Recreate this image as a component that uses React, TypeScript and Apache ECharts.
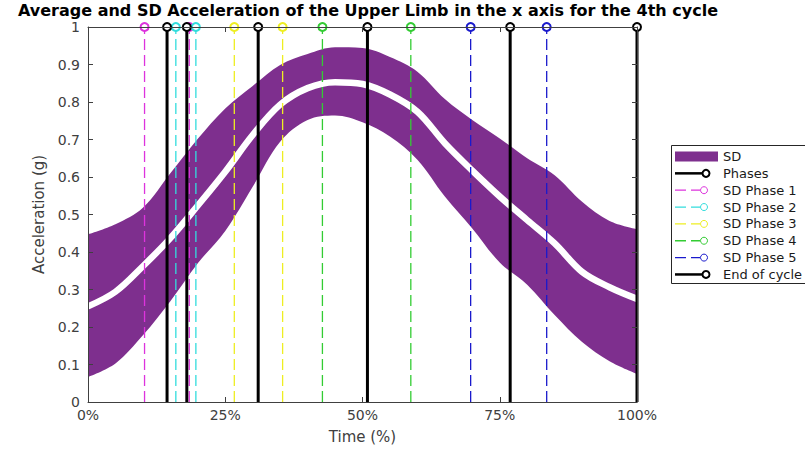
import React, { useEffect, useRef } from "react";
import * as echarts from "echarts";

// Time axis (% of cycle)
const timePct = [0, 5, 10, 15, 20, 25, 30, 35, 40, 45, 50, 55, 60, 65, 70, 75, 80, 85, 90, 95, 100];
// Mean + SD (upper edge of the band)
const sdUpper = [0.447, 0.474, 0.518, 0.61, 0.702, 0.783, 0.843, 0.899, 0.928, 0.946, 0.944, 0.92, 0.881, 0.808, 0.752, 0.703, 0.65, 0.605, 0.534, 0.483, 0.461];
// Mean - SD (lower edge of the band)
const sdLower = [0.067, 0.103, 0.178, 0.269, 0.37, 0.456, 0.574, 0.694, 0.752, 0.764, 0.746, 0.708, 0.646, 0.548, 0.463, 0.372, 0.313, 0.232, 0.16, 0.109, 0.075];
// Average acceleration
const meanAcc = [0.255, 0.294, 0.362, 0.437, 0.524, 0.614, 0.712, 0.793, 0.837, 0.853, 0.848, 0.82, 0.774, 0.69, 0.617, 0.548, 0.485, 0.423, 0.347, 0.306, 0.275];

// Vertical markers (time %)
const phaseTimes = [14.4, 18.0, 31.0, 50.9, 76.9];
const endOfCycle = [100];
const sdPhase1 = [10.3, 18.45];
const sdPhase2 = [16.0, 19.65];
const sdPhase3 = [26.65, 35.45];
const sdPhase4 = [42.7, 58.8];
const sdPhase5 = [69.7, 83.55];

const xTicks = [0, 25, 50, 75, 100];
const yTickStep = 0.1;

const legendLabels = ["SD", "Phases", "SD Phase 1", "SD Phase 2", "SD Phase 3", "SD Phase 4", "SD Phase 5", "End of cycle"];

const PURPLE = "#7E2F8E";
const C_MAG = "#dd33dd";
const C_CYAN = "#33dddd";
const C_YEL = "#eeee22";
const C_GRN = "#33cc33";
const C_BLUE = "#1a1acc";
const AXIS = "#404040";
const FONT = "DejaVu Sans";

function vline(x: number, color: string, width: number, dashed: boolean, z: number) {
  return {
    type: "line",
    xAxisIndex: 0,
    yAxisIndex: 0,
    data: [
      { value: [x, 0], symbol: "none" },
      { value: [x, 1], symbol: "emptyCircle" },
    ],
    symbolSize: 8,
    clip: false,
    silent: true,
    z,
    lineStyle: { color, width, type: dashed ? [11, 5] : "solid" },
    itemStyle: { color, borderColor: color, borderWidth: dashed ? 1 : 2 },
  };
}

export default function App() {
  const ref = useRef<HTMLDivElement>(null);

  useEffect(() => {
    if (!ref.current) return;
    const chart = echarts.init(ref.current, undefined, { renderer: "svg" });

    const upperData = timePct.map((t, i) => [t, sdUpper[i]]);
    const lowerData = timePct.map((t, i) => [t, sdLower[i]]);
    const meanData = timePct.map((t, i) => [t, meanAcc[i]]);

    const series: any[] = [
      {
        type: "line",
        data: upperData,
        symbol: "none",
        smooth: 0.35,
        lineStyle: { width: 0, opacity: 0 },
        areaStyle: { color: PURPLE, opacity: 1, origin: "start" },
        silent: true,
        z: 2,
      },
      {
        type: "line",
        data: lowerData,
        symbol: "none",
        smooth: 0.35,
        lineStyle: { width: 0, opacity: 0 },
        areaStyle: { color: "#ffffff", opacity: 1, origin: "start" },
        silent: true,
        z: 2,
      },
      {
        type: "line",
        data: meanData,
        symbol: "none",
        smooth: 0.35,
        lineStyle: { color: "#ffffff", width: 6.5 },
        silent: true,
        z: 3,
      },
    ];

    const sdGroups: [number[], string][] = [
      [sdPhase1, C_MAG],
      [sdPhase2, C_CYAN],
      [sdPhase3, C_YEL],
      [sdPhase4, C_GRN],
      [sdPhase5, C_BLUE],
    ];
    sdGroups.forEach(([arr, c]) => arr.forEach((x) => series.push(vline(x, c, 1.3, true, 4))));
    phaseTimes.forEach((x) => series.push(vline(x, "#000000", 3, false, 5)));
    endOfCycle.forEach((x) => series.push(vline(x, "#000000", 3, false, 5)));

    // Legend drawn with graphic elements (MATLAB style)
    const lgX = 671.5;
    const lgY = 145.5;
    const rowH = 16.85;
    const row0 = 156.5;
    const lgColors = ["", "#000000", C_MAG, C_CYAN, C_YEL, C_GRN, C_BLUE, "#000000"];
    const legendChildren: any[] = [
      {
        type: "rect",
        shape: { x: lgX, y: lgY, width: 140, height: 138 },
        style: { fill: "#ffffff", stroke: "#262626", lineWidth: 1 },
        z: 10,
      },
    ];
    legendLabels.forEach((label, i) => {
      const cy = row0 + rowH * i;
      if (i === 0) {
        legendChildren.push({
          type: "rect",
          shape: { x: 675, y: cy - 5, width: 43, height: 10 },
          style: { fill: PURPLE },
          z: 11,
        });
      } else {
        const c = lgColors[i];
        const solid = c === "#000000";
        legendChildren.push({
          type: "line",
          shape: { x1: 675, y1: cy, x2: solid ? 704 : 700, y2: cy },
          style: { stroke: c, lineWidth: solid ? 2.5 : 1.3, lineDash: solid ? null : [11, 5] },
          z: 11,
        });
        legendChildren.push({
          type: "circle",
          shape: { cx: solid ? 706 : 704, cy, r: 3.5 },
          style: { fill: "#ffffff", stroke: c, lineWidth: solid ? 2 : 1 },
          z: 12,
        });
      }
      legendChildren.push({
        type: "text",
        x: 723,
        y: cy,
        style: {
          text: label,
          fill: "#1a1a1a",
          font: `13px "${FONT}"`,
          verticalAlign: "middle",
          align: "left",
        },
        z: 12,
      });
    });

    const axisCommon = {
      axisTick: { show: true, inside: true, length: 5, lineStyle: { color: AXIS } },
      splitLine: { show: false },
      z: 8,
    };

    chart.setOption({
      animation: false,
      backgroundColor: "#ffffff",
      title: {
        text: "Average and SD Acceleration of the Upper Limb in the x axis for the 4th cycle",
        left: 363,
        textAlign: "center",
        top: 0,
        padding: [2, 5, 0, 5],
        textStyle: { fontFamily: FONT, fontSize: 16, lineHeight: 16, fontWeight: "bold", color: "#000000" },
      },
      grid: { left: 88, right: 168, top: 27, bottom: 48, containLabel: false },
      xAxis: [
        {
          ...axisCommon,
          type: "value",
          min: 0,
          max: 100,
          interval: 25,
          position: "bottom",
          name: "Time (%)",
          nameLocation: "middle",
          nameGap: 27,
          nameTextStyle: { fontFamily: FONT, fontSize: 15, color: AXIS },
          axisLine: { show: true, onZero: false, lineStyle: { color: AXIS, width: 1 } },
          axisLabel: {
            fontFamily: FONT,
            fontSize: 14,
            color: AXIS,
            margin: 6,
            formatter: (v: number) => (xTicks.includes(v) ? `${v}%` : ""),
          },
        },
        {
          ...axisCommon,
          type: "value",
          min: 0,
          max: 100,
          interval: 25,
          position: "top",
          axisLine: { show: true, onZero: false, lineStyle: { color: AXIS, width: 1 } },
          axisLabel: { show: false },
        },
      ],
      yAxis: [
        {
          ...axisCommon,
          type: "value",
          min: 0,
          max: 1,
          interval: yTickStep,
          position: "left",
          name: "Acceleration (g)",
          nameLocation: "middle",
          nameGap: 34,
          nameRotate: 90,
          nameTextStyle: { fontFamily: FONT, fontSize: 15, color: AXIS },
          axisLine: { show: true, onZero: false, lineStyle: { color: AXIS, width: 1 } },
          axisLabel: {
            fontFamily: FONT,
            fontSize: 14,
            lineHeight: 14,
            color: AXIS,
            margin: 8,
            formatter: (v: number) => String(+v.toFixed(1)),
          },
        },
        {
          ...axisCommon,
          type: "value",
          min: 0,
          max: 1,
          interval: yTickStep,
          position: "right",
          axisLine: { show: true, onZero: false, lineStyle: { color: AXIS, width: 1 } },
          axisLabel: { show: false },
        },
      ],
      series,
      graphic: legendChildren,
    });

    return () => chart.dispose();
  }, []);

  return <div ref={ref} style={{ width: 805, height: 450, position: "absolute", left: 0, top: 0 }} />;
}
